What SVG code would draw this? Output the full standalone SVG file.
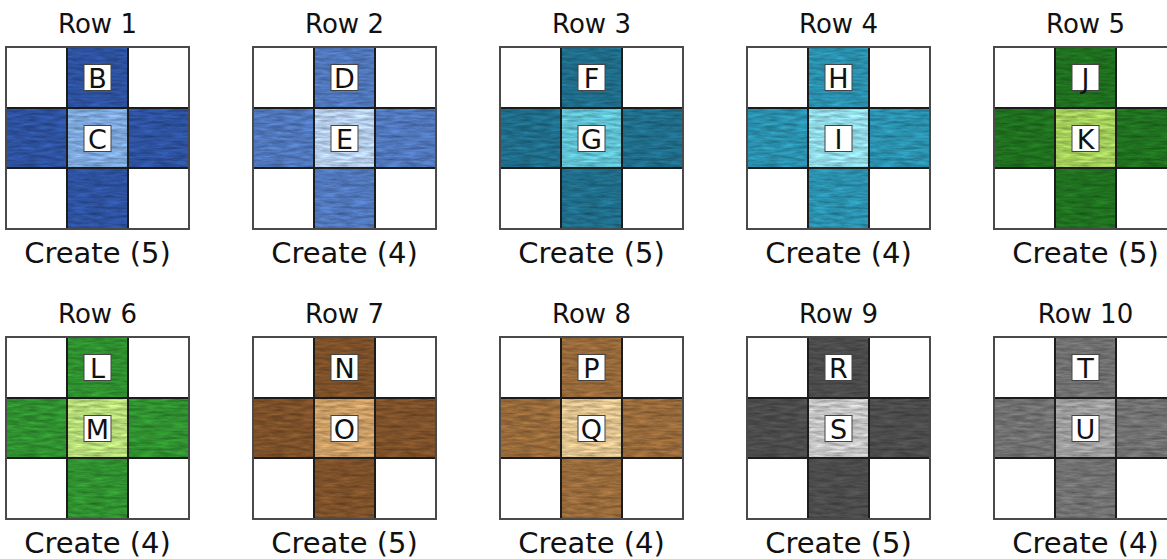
<svg xmlns="http://www.w3.org/2000/svg" xmlns:xlink="http://www.w3.org/1999/xlink" width="1167" height="559" viewBox="0 0 1167 559">
<style>
.title{font-family:"DejaVu Sans","Liberation Sans",sans-serif;font-size:26px;fill:#111;text-anchor:middle}
.cap{font-family:"DejaVu Sans","Liberation Sans",sans-serif;font-size:29px;fill:#111;text-anchor:middle}
.lbl{font-family:"DejaVu Sans","Liberation Sans",sans-serif;font-size:27px;fill:#111;text-anchor:middle}
.box{fill:#fff;stroke:#444;stroke-width:1}
.grid{fill:none;stroke:#1c1c1c;stroke-width:2}
.outer{fill:none;stroke:#4a4a4a;stroke-width:2}
</style>
<defs>
<filter id="tex" x="0" y="0" width="100%" height="100%" color-interpolation-filters="sRGB">
<feTurbulence type="fractalNoise" baseFrequency="0.06 0.35" numOctaves="4" seed="7" result="n"/>
<feColorMatrix in="n" type="matrix" values="1 0 0 0 0  1 0 0 0 0  1 0 0 0 0  0 0 0 0 1" result="g"/>
<feComposite in="SourceGraphic" in2="g" operator="arithmetic" k1="0.6" k2="0.7" k3="0" k4="0" result="t"/>
<feComposite in="t" in2="SourceGraphic" operator="in"/>
</filter>
<path id="arms" d="M61,0h61v61h-61zM0,61h61v60h-61zM122,61h61v60h-61zM61,121h61v61h-61z"/>
<rect id="ctr" x="61" y="61" width="61" height="60"/>
<path id="lines" d="M61,0V182M122,0V182M0,61H183M0,121H183"/>
<rect id="frame" x="0" y="0" width="183" height="182"/>
<rect id="box1" x="78" y="17.5" width="27" height="26"/>
<rect id="box2" x="78" y="78.5" width="27" height="26"/>
</defs>

<g id="row1" transform="translate(6,47)">
<text class="title" x="91.5" y="-14">Row 1</text>
<use href="#arms" fill="#2d519e" filter="url(#tex)"/>
<use href="#ctr" fill="#7ca6d9" filter="url(#tex)"/>
<use href="#lines" class="grid"/><use href="#frame" class="outer"/>
<use href="#box1" class="box"/><text class="lbl" x="91.5" y="40.5">B</text>
<use href="#box2" class="box"/><text class="lbl" x="91.5" y="101.5">C</text>
<text class="cap" x="91.5" y="216">Create (5)</text>
</g>

<g id="row2" transform="translate(253,47)">
<text class="title" x="91.5" y="-14">Row 2</text>
<use href="#arms" fill="#4f76ba" filter="url(#tex)"/>
<use href="#ctr" fill="#b3cbe7" filter="url(#tex)"/>
<use href="#lines" class="grid"/><use href="#frame" class="outer"/>
<use href="#box1" class="box"/><text class="lbl" x="91.5" y="40.5">D</text>
<use href="#box2" class="box"/><text class="lbl" x="91.5" y="101.5">E</text>
<text class="cap" x="91.5" y="216">Create (4)</text>
</g>

<g id="row3" transform="translate(500,47)">
<text class="title" x="91.5" y="-14">Row 3</text>
<use href="#arms" fill="#1f6c89" filter="url(#tex)"/>
<use href="#ctr" fill="#5fc0d1" filter="url(#tex)"/>
<use href="#lines" class="grid"/><use href="#frame" class="outer"/>
<use href="#box1" class="box"/><text class="lbl" x="91.5" y="40.5">F</text>
<use href="#box2" class="box"/><text class="lbl" x="91.5" y="101.5">G</text>
<text class="cap" x="91.5" y="216">Create (5)</text>
</g>

<g id="row4" transform="translate(747,47)">
<text class="title" x="91.5" y="-14">Row 4</text>
<use href="#arms" fill="#2a8fac" filter="url(#tex)"/>
<use href="#ctr" fill="#8fd7e3" filter="url(#tex)"/>
<use href="#lines" class="grid"/><use href="#frame" class="outer"/>
<use href="#box1" class="box"/><text class="lbl" x="91.5" y="40.5">H</text>
<use href="#box2" class="box"/><text class="lbl" x="91.5" y="101.5">I</text>
<text class="cap" x="91.5" y="216">Create (4)</text>
</g>

<g id="row5" transform="translate(994,47)">
<text class="title" x="91.5" y="-14">Row 5</text>
<use href="#arms" fill="#1f6f1f" filter="url(#tex)"/>
<use href="#ctr" fill="#a2cc5a" filter="url(#tex)"/>
<use href="#lines" class="grid"/><use href="#frame" class="outer"/>
<use href="#box1" class="box"/><text class="lbl" x="91.5" y="40.5">J</text>
<use href="#box2" class="box"/><text class="lbl" x="91.5" y="101.5">K</text>
<text class="cap" x="91.5" y="216">Create (5)</text>
</g>

<g id="row6" transform="translate(6,337)">
<text class="title" x="91.5" y="-14">Row 6</text>
<use href="#arms" fill="#2f8f2f" filter="url(#tex)"/>
<use href="#ctr" fill="#b4d977" filter="url(#tex)"/>
<use href="#lines" class="grid"/><use href="#frame" class="outer"/>
<use href="#box1" class="box"/><text class="lbl" x="91.5" y="40.5">L</text>
<use href="#box2" class="box"/><text class="lbl" x="91.5" y="101.5">M</text>
<text class="cap" x="91.5" y="216">Create (4)</text>
</g>

<g id="row7" transform="translate(253,337)">
<text class="title" x="91.5" y="-14">Row 7</text>
<use href="#arms" fill="#7c5029" filter="url(#tex)"/>
<use href="#ctr" fill="#c99c64" filter="url(#tex)"/>
<use href="#lines" class="grid"/><use href="#frame" class="outer"/>
<use href="#box1" class="box"/><text class="lbl" x="91.5" y="40.5">N</text>
<use href="#box2" class="box"/><text class="lbl" x="91.5" y="101.5">O</text>
<text class="cap" x="91.5" y="216">Create (5)</text>
</g>

<g id="row8" transform="translate(500,337)">
<text class="title" x="91.5" y="-14">Row 8</text>
<use href="#arms" fill="#96693a" filter="url(#tex)"/>
<use href="#ctr" fill="#dcc08d" filter="url(#tex)"/>
<use href="#lines" class="grid"/><use href="#frame" class="outer"/>
<use href="#box1" class="box"/><text class="lbl" x="91.5" y="40.5">P</text>
<use href="#box2" class="box"/><text class="lbl" x="91.5" y="101.5">Q</text>
<text class="cap" x="91.5" y="216">Create (4)</text>
</g>

<g id="row9" transform="translate(747,337)">
<text class="title" x="91.5" y="-14">Row 9</text>
<use href="#arms" fill="#4b4b4b" filter="url(#tex)"/>
<use href="#ctr" fill="#c3c3c3" filter="url(#tex)"/>
<use href="#lines" class="grid"/><use href="#frame" class="outer"/>
<use href="#box1" class="box"/><text class="lbl" x="91.5" y="40.5">R</text>
<use href="#box2" class="box"/><text class="lbl" x="91.5" y="101.5">S</text>
<text class="cap" x="91.5" y="216">Create (5)</text>
</g>

<g id="row10" transform="translate(994,337)">
<text class="title" x="91.5" y="-14">Row 10</text>
<use href="#arms" fill="#707070" filter="url(#tex)"/>
<use href="#ctr" fill="#9c9c9c" filter="url(#tex)"/>
<use href="#lines" class="grid"/><use href="#frame" class="outer"/>
<use href="#box1" class="box"/><text class="lbl" x="91.5" y="40.5">T</text>
<use href="#box2" class="box"/><text class="lbl" x="91.5" y="101.5">U</text>
<text class="cap" x="91.5" y="216">Create (4)</text>
</g>
</svg>
